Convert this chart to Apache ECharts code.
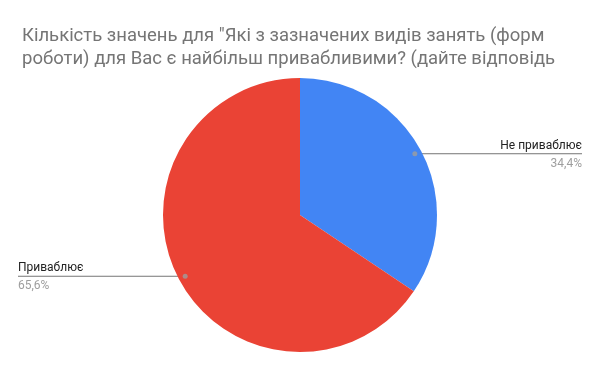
<!DOCTYPE html>
<html><head><meta charset="utf-8">
<script src="https://cdn.jsdelivr.net/npm/echarts@6/dist/echarts.min.js"></script>
<style>html,body{margin:0;padding:0;background:#fff}#c{width:600px;height:371px}</style>
</head><body><div id="c"></div>
<script>
const titleLines = ['Кількість значень для "Які з зазначених видів занять (форм', 'роботи) для Вас є найбільш привабливими? (дайте відповідь'];
const categories = ['Не приваблює', 'Приваблює'];
const values = [34.4, 65.6];
const colors = ['#4285F4', '#EA4335'];

const chart = echarts.init(document.getElementById('c'), null, {renderer: 'canvas'});
const cx = 300, cy = 215, R = 137;
const anchorFrac = 0.95;

let cum = 0;
const markerData = values.map(v => { const mid = cum + v / 2; cum += v; return [anchorFrac, mid]; });

chart.setOption({
  animation: false,
  title: {
    text: titleLines.join('\n'),
    left: 17, top: 20,
    textStyle: {fontFamily: 'Roboto', fontSize: 18.5, fontWeight: 'normal', color: '#757575', lineHeight: 23}
  },
  polar: {center: [cx, cy], radius: R},
  angleAxis: {type: 'value', min: 0, max: 100, startAngle: 90, clockwise: true, show: false},
  radiusAxis: {type: 'value', min: 0, max: 1, show: false},
  series: [{
    type: 'pie',
    center: [cx, cy],
    radius: R,
    startAngle: 90,
    clockwise: true,
    data: categories.map((n, i) => ({name: n, value: values[i], itemStyle: {color: colors[i]}})),
    label: {
      show: true,
      formatter: p => '{n|' + p.name + '}\n{v|' + p.value.toFixed(1).replace('.', ',') + '%}',
      rich: {
        n: {fontFamily: 'Roboto', fontSize: 12, color: '#222222', lineHeight: 18},
        v: {fontFamily: 'Roboto', fontSize: 12, color: '#9E9E9E', lineHeight: 18}
      }
    },
    labelLine: {show: true, length: 10, length2: 10, lineStyle: {color: '#757575', width: 1}},
    labelLayout: function (params) {
      const p0 = params.labelLinePoints[0];
      const ax = cx + (p0[0] - cx) * anchorFrac;
      const ay = cy + (p0[1] - cy) * anchorFrac;
      const right = ax > cx;
      const ex = right ? 582 : 18;
      return {
        x: ex, y: ay + 1,
        align: right ? 'right' : 'left',
        verticalAlign: 'middle',
        labelLinePoints: [[ax, ay], [ex, ay], [ex, ay]]
      };
    }
  }, {
    type: 'scatter',
    coordinateSystem: 'polar',
    data: markerData,
    symbolSize: 5,
    itemStyle: {color: '#9E9E9E'},
    silent: true,
    z: 5
  }]
});
</script></body></html>
